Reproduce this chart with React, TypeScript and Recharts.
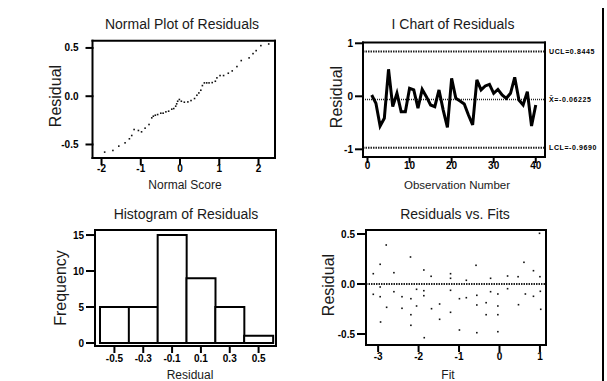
import React from 'react';
import { ScatterChart, Scatter, LineChart, Line, BarChart, Bar, XAxis, YAxis, ReferenceLine } from 'recharts';

// ---------- Data ----------
const normalScores = [-1.92, -1.71, -1.56, -1.4, -1.29, -1.23, -1.17, -1.06, -0.98, -0.89, -0.79, -0.72, -0.68, -0.63, -0.57, -0.49, -0.43, -0.36, -0.29, -0.21, -0.16, -0.11, -0.085, -0.06, -0.017, 0.034, 0.11, 0.2, 0.28, 0.37, 0.43, 0.48, 0.53, 0.57, 0.62, 0.68, 0.74, 0.82, 0.9, 0.94, 1.02, 1.11, 1.23, 1.33, 1.45, 1.56, 1.76, 1.86, 1.94, 2.06, 2.26];
const normalResiduals = [-0.579, -0.562, -0.517, -0.483, -0.441, -0.407, -0.345, -0.355, -0.369, -0.331, -0.293, -0.224, -0.207, -0.197, -0.19, -0.176, -0.176, -0.162, -0.155, -0.134, -0.128, -0.103, -0.079, -0.052, -0.034, -0.052, -0.062, -0.059, -0.045, -0.024, 0.01, 0.034, 0.062, 0.11, 0.138, 0.138, 0.138, 0.141, 0.155, 0.19, 0.214, 0.214, 0.238, 0.262, 0.307, 0.369, 0.397, 0.441, 0.472, 0.524, 0.541];

const observations = [1, 2, 3, 4, 5, 6, 7, 8, 9, 10, 11, 12, 13, 14, 15, 16, 17, 18, 19, 20, 21, 22, 23, 24, 25, 26, 27, 28, 29, 30, 31, 32, 33, 34, 35, 36, 37, 38, 39, 40];
const obsResiduals = [0.025, -0.13, -0.56, -0.415, 0.51, -0.195, 0.057, -0.29, -0.29, 0.15, 0.12, -0.226, 0.13, -0.007, -0.164, -0.195, 0.12, -0.26, -0.585, 0.34, -0.038, -0.089, -0.145, -0.353, -0.54, 0.31, 0.12, 0.195, 0.226, 0.057, 0.13, 0.025, -0.038, 0.057, 0.358, -0.07, -0.164, 0.088, -0.56, -0.164];
const UCL = 0.8445;
const MEAN = -0.06225;
const LCL = -0.969;
const limitLabels = ['UCL=0.8445', 'X\u0304=-0.06225', 'LCL=-0.9690'];

const histBins = ['-0.5', '-0.3', '-0.1', '0.1', '0.3', '0.5'];
const histFreq = [5, 5, 15, 9, 5, 1];

const fits = [0.99, -2.8, -2.2, -2.95, -0.58, 0.605, -3.12, -2.61, -1.87, -1.69, -1.21, -1.21, -0.82, -0.22, 0.2, 0.46, 0.84, 1.0, -2.95, -3.12, -2.95, -2.61, -2.41, -2.19, -2.05, -1.87, -1.87, -1.21, -0.99, -0.82, -0.56, -0.22, -0.04, 0.2, 0.64, 0.84, 1.01, -2.79, -2.41, -2.05, -1.68, -1.48, -0.56, -0.33, -0.04, 0.47, 1.02, -2.19, -1.21, -0.33, -0.04, -2.94, -2.19, -1.48, -0.99, -0.56, -0.04, -1.86];
const fitResiduals = [0.507, 0.39, 0.27, 0.197, 0.187, 0.217, 0.103, 0.113, 0.14, 0.077, 0.103, 0.057, 0.037, 0.057, 0.08, 0.073, 0.133, 0.073, -0.03, -0.103, -0.127, -0.077, -0.127, -0.147, -0.053, -0.067, -0.117, -0.063, -0.147, -0.137, -0.113, -0.077, -0.1, -0.047, -0.1, -0.123, -0.073, -0.233, -0.243, -0.22, -0.247, -0.2, -0.21, -0.187, -0.22, -0.207, -0.253, -0.307, -0.283, -0.307, -0.307, -0.38, -0.413, -0.353, -0.46, -0.487, -0.477, -0.537];

// ---------- Tables ----------
const normalData = normalScores.map((s, i) => ({ x: s, y: normalResiduals[i] }));
const iData = observations.map((o, i) => ({ obs: o, res: obsResiduals[i] }));
const histData = histBins.map((b, i) => ({ bin: b, freq: histFreq[i] }));
const fitData = fits.map((f, i) => ({ x: f, y: fitResiduals[i] }));

// ---------- Styles ----------
const FONT = '"Liberation Sans", Arial, sans-serif';
const tickStyle = { fontSize: 10, fontWeight: 700, fill: '#000', fontFamily: FONT };
const lineStyle = { stroke: '#000', strokeWidth: 2, strokeLinecap: 'square' as const };
const fmt1 = (v: number) => v.toFixed(1);
const YW = 40; // left axis width
const XH = 24; // bottom axis height

const Dot = (p: any) => <rect x={p.cx - 0.8} y={p.cy - 0.8} width={1.6} height={1.6} fill="#111" />;

const Txt = ({ x, y, size, rot, children }: any) => (
  <div
    style={{
      position: 'absolute', left: x, top: y, fontSize: size, fontFamily: FONT, color: '#1a1a1a',
      whiteSpace: 'nowrap', lineHeight: 1,
      transform: `translate(-50%, -50%)${rot ? ' rotate(-90deg)' : ''}`,
    }}
  >
    {children}
  </div>
);

// margins from box edges (local coords)
const m = (left: number, right: number, top: number, bottom: number) => ({
  left: left - YW, right: right - 1, top: top - 1, bottom: bottom - XH,
});

export default function App() {
  return (
    <div style={{ position: 'absolute', left: 0, top: 0, width: 607, height: 381, background: '#fff', overflow: 'hidden' }}>
      {/* Normal plot */}
      <div style={{ position: 'absolute', left: 0, top: 0 }}>
        <ScatterChart width={300} height={195} margin={m(92.5, 25, 40.7, 37)}>
          <XAxis type="number" dataKey="x" domain={[-2.23, 2.42]} allowDataOverflow ticks={[-2, -1, 0, 1, 2]} height={XH}
            tick={tickStyle} tickLine={lineStyle} axisLine={lineStyle} tickSize={6} tickMargin={1} />
          <XAxis xAxisId="top" orientation="top" type="number" domain={[-2.23, 2.42]} allowDataOverflow height={1} tick={false} tickLine={false} axisLine={lineStyle} />
          <YAxis type="number" dataKey="y" domain={[-0.64, 0.575]} allowDataOverflow ticks={[-0.5, 0, 0.5]} width={YW}
            tick={tickStyle} tickFormatter={fmt1} tickLine={lineStyle} axisLine={lineStyle} tickSize={6} tickMargin={8} />
          <YAxis yAxisId="right" orientation="right" type="number" domain={[-0.64, 0.575]} allowDataOverflow width={1} tick={false} tickLine={false} axisLine={lineStyle} />
          <Scatter data={normalData} shape={Dot} isAnimationActive={false} />
        </ScatterChart>
      </div>

      {/* I chart */}
      <div style={{ position: 'absolute', left: 300, top: 0 }}>
        <LineChart width={307} height={195} data={iData} margin={m(63, 62, 42.5, 38)}>
          <XAxis type="number" dataKey="obs" domain={[-1.07, 42.2]} allowDataOverflow ticks={[0, 10, 20, 30, 40]} height={XH}
            tick={tickStyle} tickLine={lineStyle} axisLine={lineStyle} tickSize={5} tickMargin={0} />
          <XAxis xAxisId="top" orientation="top" type="number" domain={[-1.07, 42.2]} allowDataOverflow height={1} tick={false} tickLine={false} axisLine={lineStyle} />
          <YAxis type="number" domain={[-1.145, 1.015]} allowDataOverflow ticks={[-1, 0, 1]} width={YW}
            tick={tickStyle} tickLine={lineStyle} axisLine={lineStyle} tickSize={7} tickMargin={3} />
          <YAxis yAxisId="right" orientation="right" type="number" domain={[-1.145, 1.015]} allowDataOverflow width={1} tick={false} tickLine={false} axisLine={lineStyle} />
          <ReferenceLine y={UCL} stroke="#222" strokeWidth={2} strokeDasharray="1.5 1"
            label={{ value: limitLabels[0], position: 'right', offset: 4, fontSize: 7, fontWeight: 700, fill: '#000', fontFamily: FONT, letterSpacing: 0.6 }} />
          <ReferenceLine y={MEAN} stroke="#222" strokeWidth={1.5} strokeDasharray="1 1"
            label={{ value: limitLabels[1], position: 'right', offset: 4, fontSize: 7, fontWeight: 700, fill: '#000', fontFamily: FONT, letterSpacing: 0.6 }} />
          <ReferenceLine y={LCL} stroke="#222" strokeWidth={2} strokeDasharray="1.5 1"
            label={{ value: limitLabels[2], position: 'right', offset: 4, fontSize: 7, fontWeight: 700, fill: '#000', fontFamily: FONT, letterSpacing: 0.6 }} />
          <Line type="linear" dataKey="res" stroke="#000" strokeWidth={3} dot={false} isAnimationActive={false} />
        </LineChart>
      </div>

      {/* Histogram */}
      <div style={{ position: 'absolute', left: 0, top: 195 }}>
        <BarChart width={300} height={186} data={histData} barCategoryGap={0} margin={m(95, 24, 35, 35)}>
          <XAxis dataKey="bin" padding={{ left: 5, right: 3 }} height={XH} interval={0}
            tick={tickStyle} tickLine={lineStyle} axisLine={lineStyle} tickSize={6} tickMargin={3} />
          <XAxis xAxisId="top" dataKey="bin" orientation="top" height={1} tick={false} tickLine={false} axisLine={lineStyle} />
          <YAxis type="number" domain={[-0.42, 15.7]} allowDataOverflow ticks={[0, 5, 10, 15]} width={YW}
            tick={tickStyle} tickLine={lineStyle} axisLine={lineStyle} tickSize={8} tickMargin={3} />
          <YAxis yAxisId="right" orientation="right" type="number" domain={[-0.42, 15.7]} allowDataOverflow width={1} tick={false} tickLine={false} axisLine={lineStyle} />
          <Bar dataKey="freq" fill="#fff" stroke="#000" strokeWidth={2} isAnimationActive={false} />
        </BarChart>
      </div>

      {/* Residuals vs Fits */}
      <div style={{ position: 'absolute', left: 300, top: 195 }}>
        <ScatterChart width={307} height={186} margin={m(66, 61, 35, 36)}>
          <XAxis type="number" dataKey="x" domain={[-3.3, 1.15]} allowDataOverflow ticks={[-3, -2, -1, 0, 1]} height={XH}
            tick={tickStyle} tickLine={lineStyle} axisLine={lineStyle} tickSize={6} tickMargin={2} />
          <XAxis xAxisId="top" orientation="top" type="number" domain={[-3.3, 1.15]} allowDataOverflow height={1} tick={false} tickLine={false} axisLine={lineStyle} />
          <YAxis type="number" dataKey="y" domain={[-0.61, 0.54]} allowDataOverflow ticks={[-0.5, 0, 0.5]} width={YW}
            tick={tickStyle} tickFormatter={fmt1} tickLine={lineStyle} axisLine={lineStyle} tickSize={8} tickMargin={3} />
          <YAxis yAxisId="right" orientation="right" type="number" domain={[-0.61, 0.54]} allowDataOverflow width={1} tick={false} tickLine={false} axisLine={lineStyle} />
          <ReferenceLine y={0} stroke="#222" strokeWidth={2} strokeDasharray="1.5 1" />
          <Scatter data={fitData} shape={Dot} isAnimationActive={false} />
        </ScatterChart>
      </div>

      {/* Titles and axis labels */}
      <Txt x={182} y={24} size={14}>Normal Plot of Residuals</Txt>
      <Txt x={453} y={24} size={14}>I Chart of Residuals</Txt>
      <Txt x={186} y={214} size={14}>Histogram of Residuals</Txt>
      <Txt x={455} y={214} size={14}>Residuals vs. Fits</Txt>

      <Txt x={55.5} y={96} size={16} rot>Residual</Txt>
      <Txt x={337} y={97} size={16} rot>Residual</Txt>
      <Txt x={61} y={288} size={16} rot>Frequency</Txt>
      <Txt x={329} y={285} size={16} rot>Residual</Txt>

      <Txt x={185} y={185} size={12}>Normal Score</Txt>
      <Txt x={457} y={186} size={11.5}>Observation Number</Txt>
      <Txt x={190} y={375} size={12}>Residual</Txt>
      <Txt x={448} y={375} size={12}>Fit</Txt>

      <div style={{ position: 'absolute', left: 602, top: 8, width: 1.5, height: 373, background: '#000' }} />
    </div>
  );
}
